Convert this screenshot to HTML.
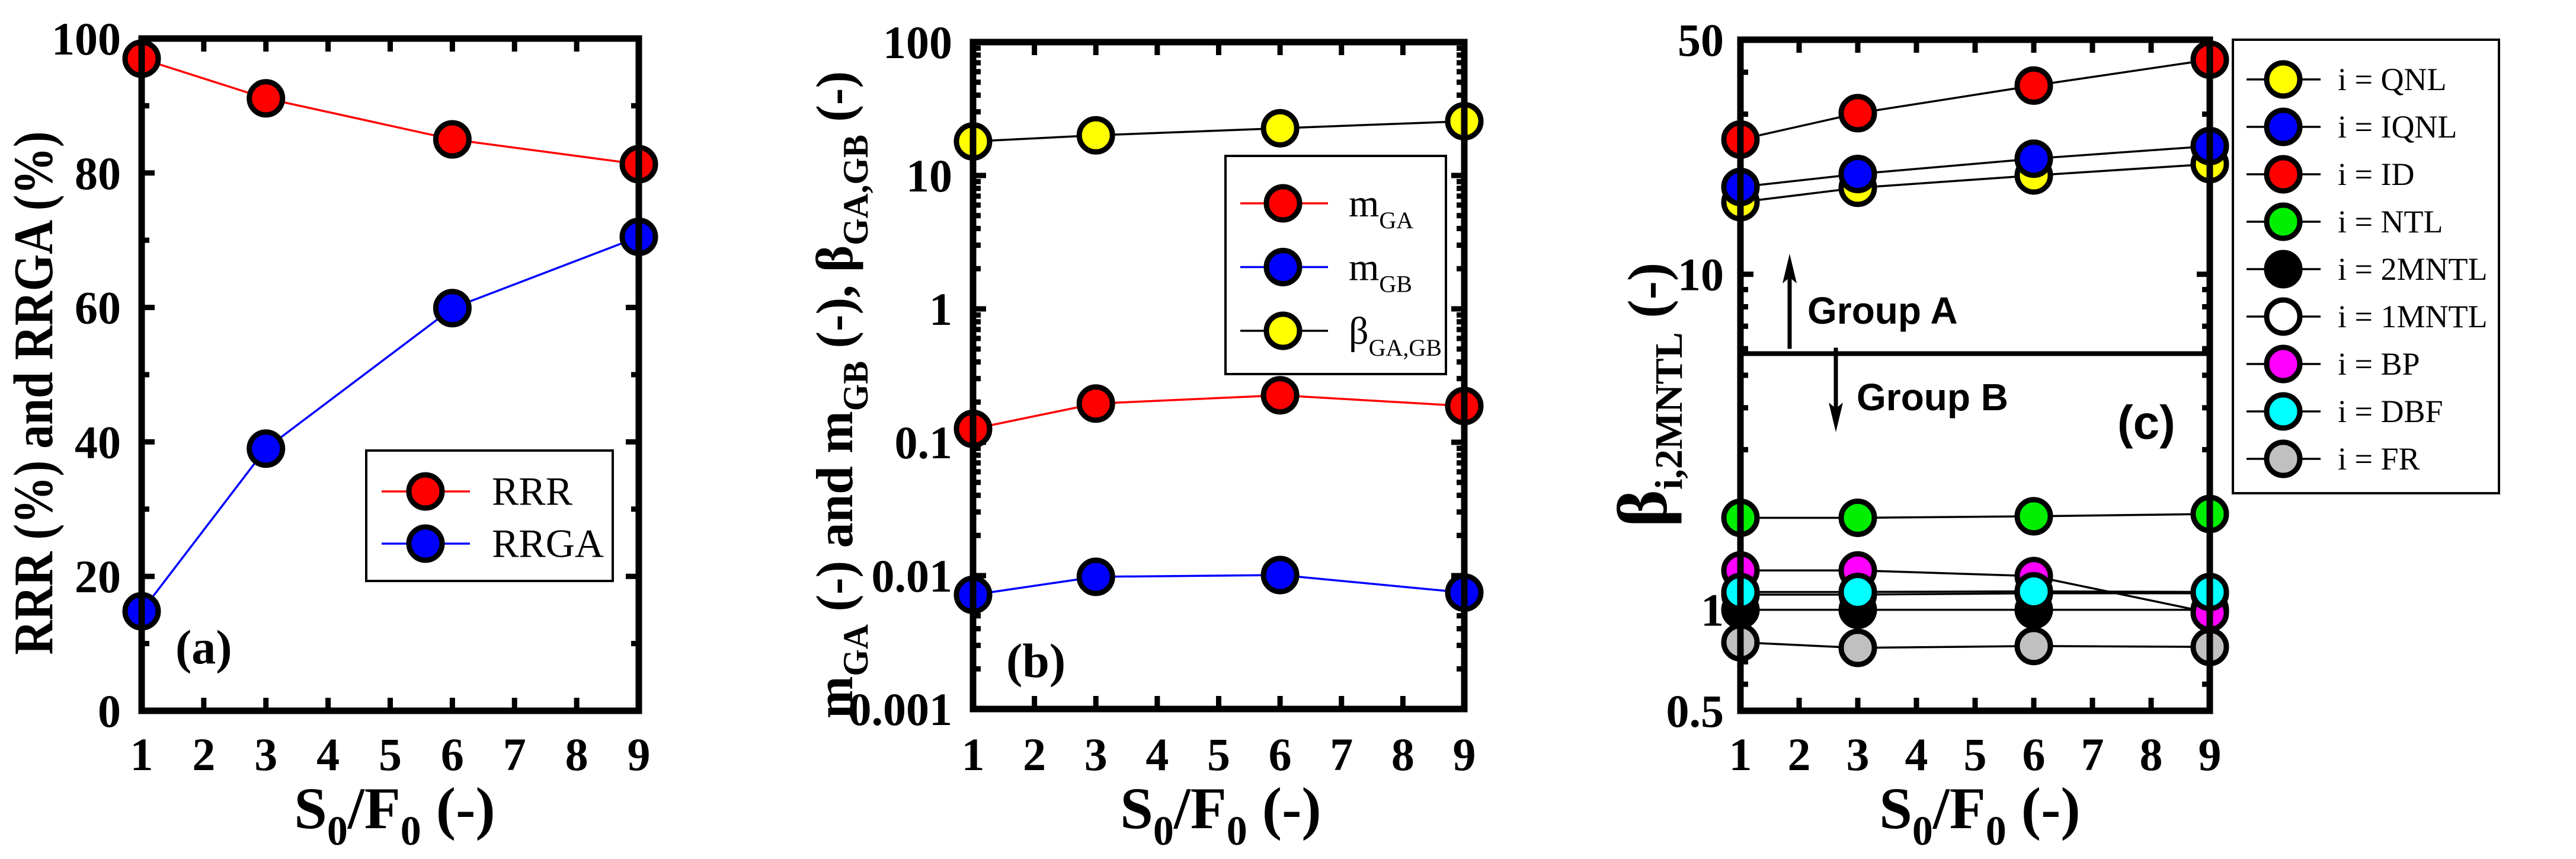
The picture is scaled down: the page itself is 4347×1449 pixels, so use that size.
<!DOCTYPE html>
<html><head><meta charset="utf-8"><style>
html,body{margin:0;padding:0;background:#fff;}
svg{display:block;}
text{font-family:"Liberation Serif","Times New Roman",serif;}
</style></head><body>
<svg id="chart" width="4347" height="1449" viewBox="0 0 4347 1449" xmlns="http://www.w3.org/2000/svg">
<rect x="0" y="0" width="4347" height="1449" fill="#fff"/>
</svg>
<script>
// ---------- data ----------
const xValues = [1, 3, 6, 9];
const xTickLabels = ['1','2','3','4','5','6','7','8','9'];
// panel a
const rrr = [97, 91.1, 85, 81.3];
const rrga = [14.8, 39, 59.9, 70.5];
const aYTicks = [0, 20, 40, 60, 80, 100];
// panel b
const mGA = [0.126, 0.195, 0.225, 0.187];
const mGB = [0.00718, 0.0098, 0.0101, 0.00746];
const betaGAGB = [18, 20, 22.6, 25.5];
const bYTicks = [0.001, 0.01, 0.1, 1, 10, 100];
const bYTickLabels = ['0.001','0.01','0.1','1','10','100'];
// panel c
const cQNL = [16.4, 18.1, 19.7, 21.3];
const cIQNL = [18.2, 19.9, 22.1, 24.1];
const cID = [25.2, 30.2, 36.5, 43.6];
const cNTL = [1.88, 1.88, 1.90, 1.93];
const c2MNTL = [1.0, 1.0, 1.0, 1.0];
const c1MNTL = [1.11, 1.11, 1.12, 1.12];
const cBP = [1.31, 1.31, 1.26, 0.98];
const cDBF = [1.13, 1.13, 1.135, 1.13];
const cFR = [0.80, 0.77, 0.78, 0.775];
const cYTicks = [0.5, 1, 10, 50];
const cYTickLabels = ['0.5','1','10','50'];
const groupBoundary = 5.8;

const NS = 'http://www.w3.org/2000/svg';
const svg = document.getElementById('chart');
function mk(tag, attrs, parent, text) {
  const e = document.createElementNS(NS, tag);
  for (const k in attrs) e.setAttribute(k, attrs[k]);
  if (text !== undefined) e.textContent = text;
  (parent || svg).appendChild(e);
  return e;
}

function panel(cfg) {
  const g = mk('g', {});
  
  
  const {L, R, T, B} = cfg;
  const sx = v => L + (v - 1) / 8 * (R - L);
  const sy = cfg.log
    ? v => B - (Math.log10(v) - Math.log10(cfg.ymin)) / (Math.log10(cfg.ymax) - Math.log10(cfg.ymin)) * (B - T)
    : v => B - (v - cfg.ymin) / (cfg.ymax - cfg.ymin) * (B - T);
  for (let i = 1; i <= 9; i++) {
    const x = sx(i);
    const t1 = mk('line', {x1: x, y1: B, x2: x, y2: B - 22, stroke: '#000', 'stroke-width': 9}, g);
    
    
    mk('line', {x1: x, y1: T, x2: x, y2: T + 22, stroke: '#000', 'stroke-width': 9}, g);
    const lb = mk('text', {x: x, y: 1299, 'text-anchor': 'middle', 'font-size': 78, 'font-weight': 'bold'}, g, xTickLabels[i - 1]);
    
    
  }
  const ytick = (v, len) => {
    const y = sy(v);
    mk('line', {x1: L, y1: y, x2: L + len, y2: y, stroke: '#000', 'stroke-width': 9}, g);
    mk('line', {x1: R, y1: y, x2: R - len, y2: y, stroke: '#000', 'stroke-width': 9}, g);
  };
  if (cfg.log) {
    const d0 = Math.floor(Math.log10(cfg.ymin)), d1 = Math.ceil(Math.log10(cfg.ymax));
    for (let d = d0; d <= d1; d++) for (let m = 1; m <= 9; m++) {
      const v = m * Math.pow(10, d);
      if (v < cfg.ymin * 0.999 || v > cfg.ymax * 1.001) continue;
      ytick(v, m === 1 ? 22 : 13);
    }
  } else {
    for (let v = cfg.ymin; v <= cfg.ymax; v += 10) ytick(v, v % 20 === 0 ? 22 : 13);
  }
  cfg.yTicks.forEach((v, i) => {
    const lb = mk('text', {x: cfg.ylabX, y: sy(v) + 27, 'text-anchor': 'end', 'font-size': 78, 'font-weight': 'bold'}, g, cfg.yLabels[i]);
    
    
  });
  if (cfg.extra) cfg.extra(g, sx, sy);
  cfg.series.forEach(s => {
    const sg = mk('g', {}, g);
    
    
    const pts = xValues.map((x, i) => sx(x) + ',' + sy(s.data[i])).join(' ');
    mk('polyline', {points: pts, fill: 'none', stroke: s.line, 'stroke-width': 3.5}, sg);
    xValues.forEach((x, i) => {
      const c = mk('circle', {cx: sx(x), cy: sy(s.data[i]), r: 28, fill: s.fill, stroke: '#000', 'stroke-width': 9}, sg);
      
      
    });
  });
  const fr = mk('rect', {x: L, y: T, width: R - L, height: B - T, fill: 'none', stroke: '#000', 'stroke-width': 11}, g);
  
  
  const xt = mk('text', {x: cfg.xTitleX, y: 1397, 'text-anchor': 'middle', 'font-size': 100, 'font-weight': 'bold'}, g);
  
  
  mk('tspan', {}, xt, 'S');
  mk('tspan', {dy: 28, 'font-size': 70}, xt, '0');
  mk('tspan', {dy: -28}, xt, '/F');
  mk('tspan', {dy: 28, 'font-size': 70}, xt, '0');
  mk('tspan', {dy: -28}, xt, ' (-)');
  return g;
}

function legend(g, box, rows, rowY, mx, lx1, lx2, tx, fs) {
  const lg = mk('g', {}, g);
  
  
  mk('rect', {x: box[0], y: box[1], width: box[2], height: box[3], fill: '#fff', stroke: '#000', 'stroke-width': 4}, lg);
  rows.forEach((r, i) => {
    const eg = mk('g', {}, lg);
    
    
    const y = rowY(i);
    mk('line', {x1: lx1, y1: y, x2: lx2, y2: y, stroke: r.line, 'stroke-width': 3.5}, eg);
    mk('circle', {cx: mx, cy: y, r: 28, fill: r.fill, stroke: '#000', 'stroke-width': 9}, eg);
    const t = mk('text', {x: tx, y: y + fs * 0.33, 'font-size': fs}, eg);
    r.label(t);
  });
}

// ---------- panel a ----------
const ga = panel({name: 'panel-a', L: 239, R: 1078, T: 65, B: 1199, ymin: 0, ymax: 100, log: false,
  yTicks: aYTicks, yLabels: aYTicks.map(String), ylabX: 204, xTitleX: 666,
  series: [{name: 'series-rrr', data: rrr, fill: '#ff0000', line: '#ff0000'},
           {name: 'series-rrga', data: rrga, fill: '#0000ff', line: '#0000ff'}]});
legend(ga, [618, 760, 416, 220], [
  {fill: '#ff0000', line: '#ff0000', label: t => t.textContent = 'RRR'},
  {fill: '#0000ff', line: '#0000ff', label: t => t.textContent = 'RRGA'}],
  i => 829 + i * 88, 718, 644, 793, 830, 68);
(function(){
  const t = mk('text', {x: 296, y: 1119, 'font-size': 82, 'font-weight': 'bold'}, ga, '(a)');
   
  const yt = mk('text', {x: 0, y: 0, transform: 'translate(88,663) rotate(-90)', 'text-anchor': 'middle', 'font-size': 94, 'font-weight': 'bold', textLength: 883, lengthAdjust: 'spacingAndGlyphs'}, ga, 'RRR (%) and RRGA (%)');
   
})();

// ---------- panel b ----------
const gb = panel({name: 'panel-b', L: 1642, R: 2471, T: 71, B: 1196, ymin: 0.001, ymax: 100, log: true,
  yTicks: bYTicks, yLabels: bYTickLabels, ylabX: 1607, xTitleX: 2060,
  series: [{name: 'series-beta-ga-gb', data: betaGAGB, fill: '#ffff00', line: '#000'},
           {name: 'series-m-ga', data: mGA, fill: '#ff0000', line: '#ff0000'},
           {name: 'series-m-gb', data: mGB, fill: '#0000ff', line: '#0000ff'}]});
function subLabel(t, main, sub) {
  mk('tspan', {}, t, main);
  mk('tspan', {dy: 20, 'font-size': 40}, t, sub);
}
legend(gb, [2068, 263, 372, 368], [
  {fill: '#ff0000', line: '#ff0000', label: t => subLabel(t, 'm', 'GA')},
  {fill: '#0000ff', line: '#0000ff', label: t => subLabel(t, 'm', 'GB')},
  {fill: '#ffff00', line: '#000', label: t => subLabel(t, 'β', 'GA,GB')}],
  i => 343 + i * 107.5, 2165, 2093, 2241, 2276, 66);
(function(){
  const t = mk('text', {x: 1698, y: 1142, 'font-size': 82, 'font-weight': 'bold'}, gb, '(b)');
   
  const yt = mk('text', {x: 0, y: 0, transform: 'translate(1438,666) rotate(-90)', 'text-anchor': 'middle', 'font-size': 88, 'font-weight': 'bold', textLength: 1092, lengthAdjust: 'spacingAndGlyphs'}, gb);
   
  const parts = [['m',0],['GA',1],[' (-) and m',0],['GB',1],[' (-), β',0],['GA,GB',1],[' (-)',0]];
  let sub = false;
  parts.forEach(p => {
    const a = {};
    if (p[1] && !sub) { a.dy = 26; a['font-size'] = 60; sub = true; }
    else if (!p[1] && sub) { a.dy = -26; sub = false; }
    mk('tspan', a, yt, p[0]);
  });
})();

// ---------- panel c ----------
const cSeries = [
  {name: 'series-qnl', data: cQNL, fill: '#ffff00', lab: 'QNL'},
  {name: 'series-iqnl', data: cIQNL, fill: '#0000ff', lab: 'IQNL'},
  {name: 'series-id', data: cID, fill: '#ff0000', lab: 'ID'},
  {name: 'series-ntl', data: cNTL, fill: '#00ee00', lab: 'NTL'},
  {name: 'series-2mntl', data: c2MNTL, fill: '#000000', lab: '2MNTL'},
  {name: 'series-1mntl', data: c1MNTL, fill: '#ffffff', lab: '1MNTL'},
  {name: 'series-bp', data: cBP, fill: '#ff00ff', lab: 'BP'},
  {name: 'series-dbf', data: cDBF, fill: '#00ffff', lab: 'DBF'},
  {name: 'series-fr', data: cFR, fill: '#c0c0c0', lab: 'FR'}];
const gc = panel({name: 'panel-c', L: 2937, R: 3729, T: 67, B: 1199, ymin: 0.5, ymax: 50, log: true,
  yTicks: cYTicks, yLabels: cYTickLabels, ylabX: 2909, xTitleX: 3341,
  series: cSeries.map(s => ({name: s.name, data: s.data, fill: s.fill, line: '#000'})),
  extra: (g, sx, sy) => {
    const y = sy(groupBoundary);
    const l = mk('line', {x1: 2937, y1: y, x2: 3729, y2: y, stroke: '#000', 'stroke-width': 8}, g);
     
    mk('line', {x1: 3020, y1: y - 8, x2: 3020, y2: 445, stroke: '#000', 'stroke-width': 7}, g);
    mk('polygon', {points: '3020,428 3008,478 3020,468 3032,478', fill: '#000'}, g);
    mk('line', {x1: 3098, y1: y - 10, x2: 3098, y2: 712, stroke: '#000', 'stroke-width': 7}, g);
    mk('polygon', {points: '3098,729 3086,679 3098,689 3110,679', fill: '#000'}, g);
    const ta = mk('text', {x: 3050, y: 546, style: 'font-family:"Liberation Sans",sans-serif', 'font-size': 64, 'font-weight': 'bold'}, g, 'Group A');
     
    const tb = mk('text', {x: 3133, y: 692, style: 'font-family:"Liberation Sans",sans-serif', 'font-size': 64, 'font-weight': 'bold'}, g, 'Group B');
     
  }});
legend(gc, [3768, 67, 449, 765], cSeries.map(s => ({fill: s.fill, line: '#000', label: t => t.textContent = 'i = ' + s.lab})),
  i => 134 + i * 80, 3853, 3791, 3916, 3945, 54);
(function(){
  const t = mk('text', {x: 3573, y: 740, style: 'font-family:"Liberation Sans",sans-serif', 'font-size': 80, 'font-weight': 'bold'}, gc, '(c)');
   
  const yt = mk('text', {x: 0, y: 0, transform: 'translate(2812,666) rotate(-90)', 'text-anchor': 'middle', 'font-size': 94, 'font-weight': 'bold'}, gc);
   
  mk('tspan', {'font-size': 120}, yt, 'β');
  mk('tspan', {dy: 26, 'font-size': 66}, yt, 'i,2MNTL');
  mk('tspan', {dy: -26}, yt, '  (-)');
})();
</script>
</body></html>
